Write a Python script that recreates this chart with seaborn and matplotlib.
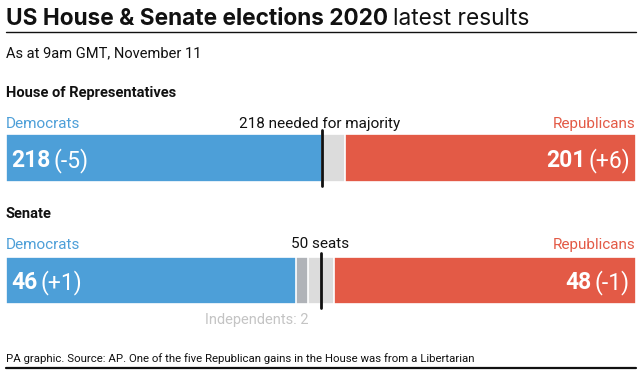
import matplotlib
matplotlib.use("Agg")
import matplotlib.pyplot as plt
import seaborn as sns

# Data
house_parties = ["Democrats", "Undecided", "Republicans"]
house_seats = [218, 16, 201]
house_change = ["-5", "", "+6"]
house_majority = 218

senate_parties = ["Democrats", "Independents", "Undecided", "Republicans"]
senate_seats = [46, 2, 4, 48]
senate_change = ["+1", "", "", "-1"]
senate_mark = 50

BLUE = "#4d9fd8"
RED = "#e35a46"
LIGHT = "#dcdcdc"
DARK = "#b0b3b8"
colors_house = [BLUE, LIGHT, RED]
colors_senate = [BLUE, DARK, LIGHT, RED]

sns.set_theme(style="white")
plt.rcParams["font.family"] = ["Roboto", "DejaVu Sans"]

W, H = 640, 372
fig = plt.figure(figsize=(6.4, 3.72), dpi=100)


def px(x, y):
    return x / W, 1 - y / H


def stacked(ax, seats, colors):
    # cumulative totals drawn largest first so each segment shows
    cum = []
    total = 0
    for s in seats:
        total += s
        cum.append(total)
    for c, col in reversed(list(zip(cum, colors))):
        sns.barplot(x=[c], y=["row"], orient="h", color=col, saturation=1,
                    width=1, ax=ax, errorbar=None, linewidth=1.2, edgecolor="white")
    ax.set_xlim(0, total)
    ax.set_ylim(0.5, -0.5)
    ax.axis("off")
    return cum


def bold_regular(x, y, bold, reg, size, color, right=False, gap=3, family=None):
    r = fig.canvas.get_renderer()
    kw = dict(fontsize=size, color=color, va="baseline")
    if family:
        kw["family"] = family
    if not right:
        t = fig.text(*px(x, y), bold, fontweight="bold", ha="left", **kw)
        bb = t.get_window_extent(r)
        fig.text((bb.x1 + gap) / W, 1 - y / H, reg, ha="left", **kw)
    else:
        t = fig.text(*px(x, y), reg, ha="right", **kw)
        bb = t.get_window_extent(r)
        fig.text((bb.x0 - gap) / W, 1 - y / H, bold, fontweight="bold", ha="right", **kw)


# Title block
bold_regular(6, 25, "US House & Senate elections 2020", "latest results", 16.3, "#111111",
             gap=5, family=["Inter", "DejaVu Sans"])
fig.add_artist(plt.Line2D([6 / W, 636 / W], [1 - 32 / H] * 2, color="#111111", lw=1))
fig.text(*px(6, 57), "As at 9am GMT, November 11", fontsize=10.5, color="#111111", va="baseline")

# House
ax_h = fig.add_axes([6 / W, 1 - 182 / H, 630 / W, 48 / H])
cum_h = stacked(ax_h, house_seats, colors_house)
ax_h.axvline(house_majority, ymin=-4 / 48, ymax=1 + 4 / 48, color="#111111", lw=2, clip_on=False)
fig.text(*px(6, 97), "House of Representatives", fontsize=10.5, fontweight="bold", color="#111111", va="baseline")
fig.text(*px(6, 128), house_parties[0], fontsize=11, color=BLUE, va="baseline")
fig.text(*px(636, 128), house_parties[2], fontsize=11, color=RED, va="baseline", ha="right")
fig.text(*px(320, 128), f"{house_majority} needed for majority", fontsize=11, color="#111111", va="baseline", ha="center")
bold_regular(11, 167, str(house_seats[0]), f"({house_change[0]})", 16.5, "white")
bold_regular(630, 167, str(house_seats[2]), f"({house_change[2]})", 16.5, "white", right=True)

# Senate
ax_s = fig.add_axes([6 / W, 1 - 304 / H, 630 / W, 47 / H])
cum_s = stacked(ax_s, senate_seats, colors_senate)
ax_s.axvline(senate_mark, ymin=-4 / 47, ymax=1 + 4 / 47, color="#111111", lw=2, clip_on=False)
fig.text(*px(6, 218), "Senate", fontsize=10.5, fontweight="bold", color="#111111", va="baseline")
fig.text(*px(6, 249), senate_parties[0], fontsize=11, color=BLUE, va="baseline")
fig.text(*px(636, 249), senate_parties[3], fontsize=11, color=RED, va="baseline", ha="right")
fig.text(*px(320, 248), f"{senate_mark} seats", fontsize=11, color="#111111", va="baseline", ha="center")
bold_regular(11, 289, str(senate_seats[0]), f"({senate_change[0]})", 16.5, "white")
bold_regular(630, 289, str(senate_seats[3]), f"({senate_change[3]})", 16.5, "white", right=True)
ind_end = fig.transFigure.inverted().transform(ax_s.transData.transform((cum_s[1], 0)))[0]
fig.text(ind_end, 1 - 324 / H, f"{senate_parties[1]}: {senate_seats[1]}", fontsize=10.5,
         color="#c4c4c4", va="baseline", ha="right")

# Footer
fig.text(*px(6, 362), "PA graphic. Source: AP. One of the five Republican gains in the House was from a Libertarian",
         fontsize=8.2, color="#111111", va="baseline")
fig.add_artist(plt.Line2D([6 / W, 636 / W], [1 - 368 / H] * 2, color="#111111", lw=1.6))

fig.savefig("out.png", dpi=100)
